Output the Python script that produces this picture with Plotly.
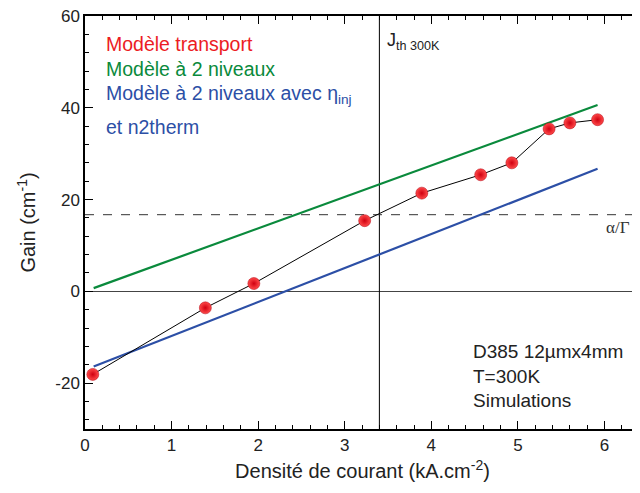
import plotly.graph_objects as go

# Data
j_transport = [0.09, 1.39, 1.95, 3.23, 3.89, 4.57, 4.93, 5.36, 5.60, 5.92]
gain_transport = [-18.1, -3.6, 1.7, 15.4, 21.4, 25.4, 28.0, 35.4, 36.7, 37.4]

j_2niv = [0.10, 5.92]
gain_2niv = [0.7, 40.6]

j_2niv_eta = [0.10, 5.92]
gain_2niv_eta = [-16.4, 26.7]

j_th = 3.40
alpha_over_gamma = 16.7

x_range = [0, 6.41]
y_range = [-30, 60]
y_tickvals = [-20, 0, 20, 40, 60]
y_ticktext = ["-20", "0", "20", "40", "60"]

RED = "#ec1c24"
GREEN = "#0a8a3c"
BLUE = "#2c4fa6"
FONT = "Liberation Sans, Arial, sans-serif"

fig = go.Figure()

# threshold line and alpha/Gamma line
fig.add_trace(go.Scatter(x=[j_th, j_th], y=y_range, mode="lines",
                         line=dict(color="black", width=1), showlegend=False, hoverinfo="skip"))
fig.add_trace(go.Scatter(x=x_range, y=[alpha_over_gamma, alpha_over_gamma], mode="lines",
                         line=dict(color="#333333", width=1, dash="dash"), showlegend=False, hoverinfo="skip"))

fig.add_trace(go.Scatter(x=j_2niv, y=gain_2niv, mode="lines",
                         line=dict(color=GREEN, width=2.2), showlegend=False))
fig.add_trace(go.Scatter(x=j_2niv_eta, y=gain_2niv_eta, mode="lines",
                         line=dict(color=BLUE, width=2.2), showlegend=False))
fig.add_trace(go.Scatter(x=j_transport, y=gain_transport, mode="lines+markers",
                         line=dict(color="black", width=1),
                         marker=dict(size=12, color="#ff4a4a",
                                     gradient=dict(type="radial", color="#d00010"),
                                     line=dict(color="#b00010", width=0.5)),
                         showlegend=False))

ann = []
def txt(x, y, s, color, size, xanchor="left", family=FONT, yanchor="middle"):
    ann.append(dict(x=x, y=y, xref="x", yref="y", text=s, showarrow=False,
                    xanchor=xanchor, yanchor=yanchor,
                    font=dict(color=color, size=size, family=family)))

txt(0.22, 54.0, "Modèle transport", RED, 19.5)
txt(0.22, 48.5, "Modèle à 2 niveaux", GREEN, 19.5)
txt(0.22, 42.9, "Modèle à 2 niveaux avec η<sub>inj</sub>", BLUE, 19.5)
txt(0.22, 35.9, "et n2therm", BLUE, 19.5)
txt(3.46, 54.5, "J<sub>th 300K</sub>", "#222222", 18)
txt(6.155, 13.9, "α/Γ", "#333333", 17, xanchor="center", family="Liberation Serif, Times New Roman, serif")
txt(4.46, -13.1, "D385 12µmx4mm", "#222222", 19)
txt(4.46, -18.5, "T=300K", "#222222", 19)
txt(4.46, -23.7, "Simulations", "#222222", 19)

# The page body adds an 8 px offset, so the figure is sized/margined to compensate
fig.update_layout(
    width=632, height=485,
    margin=dict(l=77, r=0, t=8, b=64, autoexpand=False),
    plot_bgcolor="white", paper_bgcolor="white",
    annotations=ann,
    font=dict(family=FONT, color="#222222", size=17),
)
fig.update_xaxes(range=x_range, showgrid=False, zeroline=False, automargin=False,
                 showline=True, linecolor="black", linewidth=1.5, mirror="allticks",
                 ticks="inside", ticklen=8, tickwidth=1.2, tickcolor="black",
                 dtick=1, tick0=0, ticklabeloverflow="allow",
                 minor=dict(ticks="inside", ticklen=4, tickwidth=1.2, dtick=0.2, tickcolor="black"),
                 title=dict(text="Densité de courant (kA.cm<sup>-2</sup>)", font=dict(size=20), standoff=10),
                 tickfont=dict(size=17))
fig.update_yaxes(range=y_range, showgrid=False, automargin=False,
                 zeroline=True, zerolinecolor="#444444", zerolinewidth=1.2,
                 showline=True, linecolor="black", linewidth=1.5, mirror=False,
                 ticks="inside", ticklen=8, tickwidth=1.2, tickcolor="black",
                 tickvals=y_tickvals, ticktext=y_ticktext, ticklabeloverflow="allow",
                 minor=dict(ticks="inside", ticklen=4, tickwidth=1.2, dtick=4, tickcolor="black"),
                 title=dict(text="Gain (cm<sup>-1</sup>)", font=dict(size=20), standoff=14),
                 tickfont=dict(size=17))

fig.write_html("out.html")
